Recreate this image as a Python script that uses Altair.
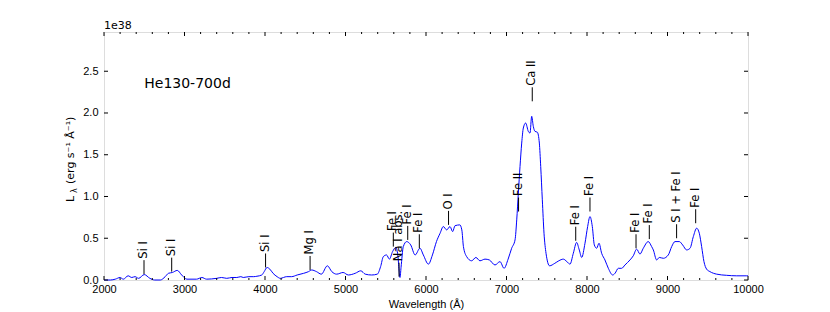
import altair as alt
import pandas as pd

# Spectrum (wavelength in Angstrom, luminosity in units of 1e38)
wavelength = [2000, 2080, 2140, 2200, 2240, 2300, 2345, 2385, 2430, 2500, 2570, 2630, 2700,
              2760, 2800, 2850, 2910, 2965, 3030, 3150, 3215, 3275, 3400, 3460, 3525, 3590,
              3650, 3700, 3730, 3800, 3860, 3900, 3960, 3990, 4025, 4060, 4100, 4150, 4190,
              4270, 4330, 4400, 4480, 4540, 4580, 4640, 4700, 4775, 4830, 4890, 4970, 5035,
              5120, 5190, 5245, 5325, 5395, 5436, 5470, 5510, 5545, 5585, 5625, 5650, 5665,
              5677, 5690, 5718, 5760, 5810, 5865, 5925, 5967, 6030, 6080, 6130, 6175, 6215,
              6257, 6298, 6331, 6360, 6420, 6445, 6465, 6505, 6567, 6620, 6670, 6733, 6787,
              6857, 6919, 6970, 7020, 7064, 7106, 7127, 7147, 7168, 7189, 7209, 7238, 7271,
              7292, 7313, 7333, 7354, 7383, 7408, 7425, 7445, 7466, 7491, 7535, 7600, 7650,
              7706, 7750, 7789, 7830, 7871, 7904, 7934, 7975, 8008, 8037, 8066, 8091, 8120,
              8149, 8182, 8223, 8265, 8319, 8348, 8389, 8430, 8472, 8534, 8575, 8617, 8658,
              8699, 8761, 8803, 8824, 8865, 8898, 8948, 9010, 9052, 9093, 9147, 9188, 9238,
              9280, 9321, 9362, 9395, 9424, 9453, 9486, 9528, 9611, 9735, 9860, 9984, 10000]
luminosity = [0.0, 0.0, 0.01, 0.03, 0.01, 0.05, 0.03, 0.04, 0.02, 0.065, 0.02, 0.0, 0.0,
              0.04, 0.08, 0.09, 0.115, 0.06, 0.01, 0.01, 0.03, 0.01, 0.02, 0.03, 0.02, 0.03,
              0.03, 0.04, 0.03, 0.04, 0.04, 0.045, 0.06, 0.1, 0.15, 0.13, 0.08, 0.04, 0.02,
              0.04, 0.04, 0.06, 0.08, 0.1, 0.12, 0.1, 0.07, 0.17, 0.1, 0.07, 0.09, 0.06,
              0.08, 0.11, 0.07, 0.06, 0.07, 0.16, 0.28, 0.30, 0.25, 0.34, 0.39, 0.3, 0.12,
              0.03, 0.15, 0.4, 0.46, 0.42, 0.3, 0.38, 0.3, 0.19, 0.3, 0.46, 0.56, 0.64,
              0.6, 0.64, 0.58, 0.65, 0.66, 0.6, 0.4, 0.28, 0.23, 0.27, 0.23, 0.25, 0.24,
              0.18, 0.22, 0.14, 0.25, 0.38, 0.48, 0.72, 1.04, 1.36, 1.64, 1.82, 1.88, 1.78,
              1.76, 1.96, 1.84, 1.78, 1.77, 1.64, 1.36, 0.96, 0.56, 0.32, 0.17, 0.2, 0.23,
              0.25, 0.22, 0.19, 0.32, 0.45, 0.36, 0.27, 0.44, 0.64, 0.76, 0.64, 0.42, 0.38,
              0.44, 0.32, 0.24, 0.14, 0.06, 0.08, 0.14, 0.14, 0.18, 0.24, 0.29, 0.37, 0.31,
              0.38, 0.46, 0.4, 0.36, 0.24, 0.27, 0.26, 0.3, 0.4, 0.46, 0.46, 0.42, 0.36,
              0.38, 0.52, 0.62, 0.56, 0.4, 0.22, 0.13, 0.1, 0.07, 0.056, 0.05, 0.05, 0.05]

# Line identifications
line_names = ["Si I", "Si I", "Si I", "Mg I", "Fe I", "Na I abs.", "Fe I", "Fe I", "O I",
              "Fe II", "Ca II", "Fe I", "Fe I", "Fe I", "Fe I", "S I + Fe I", "Fe I"]
line_wavelengths = [2497, 2841, 4007, 4560, 5594, 5665, 5773, 5917, 6280,
                    7150, 7320, 7860, 8037, 8609, 8774, 9113, 9350]
line_levels = [0.07, 0.10, 0.15, 0.12, 0.40, 0.04, 0.48, 0.38, 0.66,
               0.82, 2.14, 0.47, 0.82, 0.38, 0.49, 0.50, 0.68]

x_major = [2000, 3000, 4000, 5000, 6000, 7000, 8000, 9000, 10000]
x_minor = [v for v in range(2000, 10001, 200) if v % 1000 != 0]
y_major = [0.0, 0.5, 1.0, 1.5, 2.0, 2.5]

W, H = 644, 248
FONT = "DejaVu Sans"

spec_df = pd.DataFrame({"wl": wavelength, "L": luminosity})
lines_df = pd.DataFrame({"wl": line_wavelengths, "L": line_levels, "name": line_names})

xscale = alt.Scale(domain=[2000, 10000], nice=False, zero=False)
yscale = alt.Scale(domain=[0, 2.97], nice=False, zero=False)

spectrum = alt.Chart(spec_df).mark_line(
    color="#0000ff", strokeWidth=1, interpolate="monotone"
).encode(
    x=alt.X("wl:Q", scale=xscale, axis=alt.Axis(
        title="Wavelength (Å)", values=x_major, format="d", ticks=False, domain=False,
        grid=False, labelFlush=False, labelOverlap=False, labelPadding=3,
        titlePadding=4, labelFontSize=11, titleFontSize=11, titleFontWeight="normal")),
    y=alt.Y("L:Q", scale=yscale, axis=alt.Axis(
        title=None, values=y_major, format=".1f", ticks=False, domain=False,
        grid=False, labelPadding=6, labelFontSize=11, labelOverlap=False,
        labelFlush=False)),
)

id_rules = alt.Chart(lines_df).mark_rule(color="black", strokeWidth=1, y2Offset=-14).encode(
    x="wl:Q", y="L:Q", y2="L:Q"
)
id_text = alt.Chart(lines_df).mark_text(
    angle=270, align="left", baseline="middle", fontSize=11.5, font=FONT,
    color="black", yOffset=-15.5
).encode(x="wl:Q", y="L:Q", text="name:N")

xmaj_df = pd.DataFrame({"v": x_major})
xmin_df = pd.DataFrame({"v": x_minor})
ymaj_df = pd.DataFrame({"v": y_major})

def xticks(df, length):
    bottom = alt.Chart(df).mark_rule(color="black", strokeWidth=1).encode(
        x="v:Q", y=alt.value(H), y2=alt.value(H - length))
    top = alt.Chart(df).mark_rule(color="black", strokeWidth=1).encode(
        x="v:Q", y=alt.value(0), y2=alt.value(length))
    return bottom + top

def yticks(df, length):
    left = alt.Chart(df).mark_rule(color="black", strokeWidth=1).encode(
        y="v:Q", x=alt.value(0), x2=alt.value(length))
    right = alt.Chart(df).mark_rule(color="black", strokeWidth=1).encode(
        y="v:Q", x=alt.value(W), x2=alt.value(W - length))
    return left + right

title_df = pd.DataFrame({"t": ["He130-700d"], "wl": [2500], "L": [2.35]})
run_title = alt.Chart(title_df).mark_text(
    align="left", baseline="middle", fontSize=14, font=FONT, color="black"
).encode(x="wl:Q", y="L:Q", text="t:N")

offset_df = pd.DataFrame({"t": ["1e38"]})
offset_text = alt.Chart(offset_df).mark_text(
    align="left", baseline="alphabetic", fontSize=11, font=FONT, color="black"
).encode(x=alt.value(0), y=alt.value(-3), text="t:N")

ylab_df = pd.DataFrame({"t": ["L"]})
ylab_L = alt.Chart(ylab_df).mark_text(
    angle=270, align="left", baseline="alphabetic", fontSize=11, font=FONT, color="black"
).encode(x=alt.value(-30), y=alt.value(170), text="t:N")
ylab_sub = alt.Chart(pd.DataFrame({"t": ["λ"]})).mark_text(
    angle=270, align="left", baseline="alphabetic", fontSize=8, font=FONT, color="black"
).encode(x=alt.value(-27), y=alt.value(161), text="t:N")
ylab_rest = alt.Chart(pd.DataFrame({"t": ["(erg s⁻¹ Å⁻¹)"]})).mark_text(
    angle=270, align="left", baseline="alphabetic", fontSize=11, font=FONT, color="black"
).encode(x=alt.value(-30), y=alt.value(152), text="t:N")

chart = alt.layer(
    spectrum, id_rules, id_text,
    xticks(xmaj_df, 4), xticks(xmin_df, 2), yticks(ymaj_df, 4),
    run_title, offset_text, ylab_L, ylab_sub, ylab_rest,
).properties(
    width=W, height=H,
    autosize=alt.AutoSizeParams(type="none"),
    padding={"left": 96, "top": 24, "right": 70, "bottom": 32},
).configure_view(
    stroke="black", strokeWidth=1
).configure_axis(
    labelFont=FONT, titleFont=FONT, labelColor="black", titleColor="black"
).configure(background="white")

chart.save("out.html", embed_options={"renderer": "svg", "actions": False})
